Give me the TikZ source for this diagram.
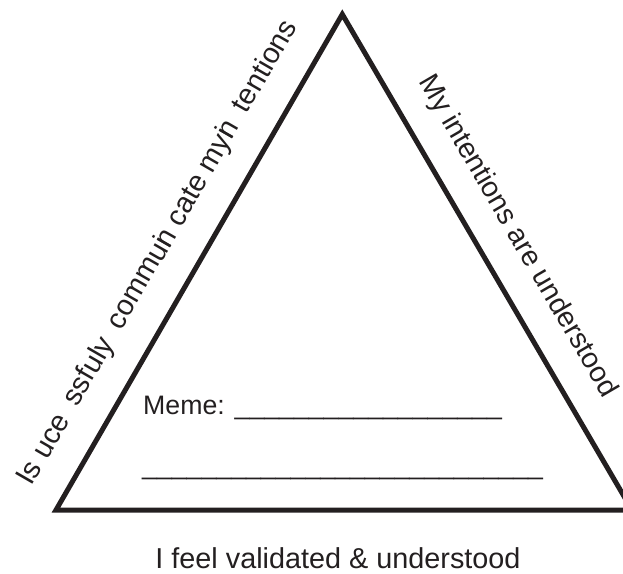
\documentclass[tikz,border=0pt]{standalone}
\usepackage{fontspec}
\setmainfont{Liberation Sans}
\usetikzlibrary{calc}
\definecolor{ink}{RGB}{35,31,32}
\tikzset{
  sidetext/.style={inner sep=0pt, text=ink, font=\fontsize{28.5}{32}\selectfont},
  lefttext/.style={inner sep=0pt, text=ink, font=\fontsize{28.9}{32}\selectfont},
  plaintext/.style={inner sep=0pt, text=ink, font=\fontsize{26.7}{30}\selectfont},
  bottomtext/.style={inner sep=0pt, text=ink, font=\fontsize{28.8}{32}\selectfont},
  frame/.style={draw=ink, line width=5pt, line join=miter}
}
\begin{document}
\begin{tikzpicture}[x=1pt,y=1pt]
\useasboundingbox (0,0) rectangle (623,573);
\coordinate (A) at (342.3,558.7);
\coordinate (L) at (56,63);
\coordinate (R) at (632,63);
\draw[frame] (A) -- (L) -- (R) -- cycle;
\node[lefttext, rotate=60.0] (lt) at ($(L)!0.478!(A)!40pt!90:(A)$)
  {Is uce\hspace{0.5em}ssfuly\hspace{0.5em}commu\rlap{i}n cate my\rlap{i}n\hspace{0.5em}tentions};
\node[sidetext, rotate=-59.7] (rt) at ($(A)!0.488!(R)!39pt!90:(R)$)
  {My intentions are understood};
\node[plaintext, anchor=base west] (meme) at (143,159)
  {Meme: \_\_\_\_\_\_\_\_\_\_\_\_\_\_\_\_\_\_};
\node[plaintext, anchor=base west] (blank) at (142,99)
  {\_\_\_\_\_\_\_\_\_\_\_\_\_\_\_\_\_\_\_\_\_\_\_\_\_\_\_};
\node[bottomtext, anchor=base] (bottom) at (338,5) {I feel validated \& understood};
\end{tikzpicture}
\end{document}
